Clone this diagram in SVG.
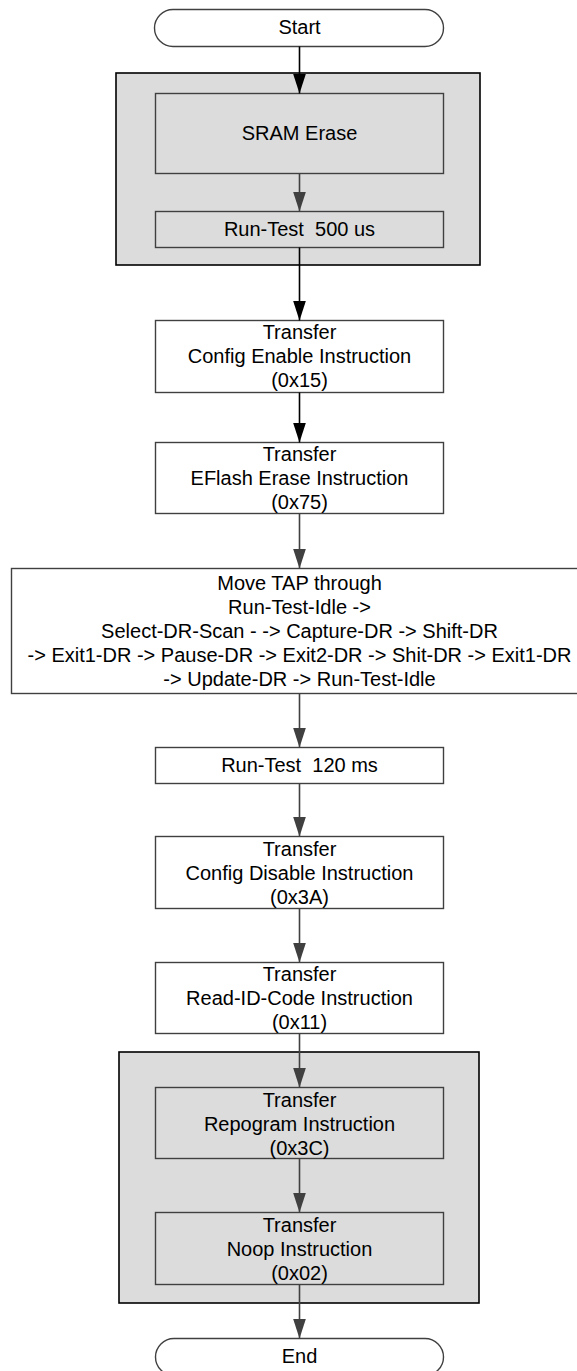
<svg xmlns="http://www.w3.org/2000/svg" width="577" height="1371" viewBox="0 0 577 1371">
<style>
  .bg{fill:#ffffff}
  .grp{fill:#dcdcdc;stroke:#000000;stroke-width:1.6}
  .box{fill:#ffffff;stroke:#404040;stroke-width:1.4}
  .gbox{fill:#dcdcdc;stroke:#404040;stroke-width:1.4}
  .term{fill:#ffffff;stroke:#404040;stroke-width:1.4}
  text{font-family:"Liberation Sans",Arial,sans-serif;font-size:20px;fill:#000000;text-anchor:middle}
  .cb{stroke:#000000;stroke-width:1.6;fill:none}
  .cg{stroke:#404040;stroke-width:1.6;fill:none}
</style>
<defs>
  <marker id="ahB" markerUnits="userSpaceOnUse" markerWidth="20" markerHeight="14" refX="20" refY="6.5" orient="auto">
    <path d="M0,0 L20,6.5 L0,13 z" fill="#000000"/>
  </marker>
  <marker id="ahG" markerUnits="userSpaceOnUse" markerWidth="20" markerHeight="14" refX="20" refY="6.5" orient="auto">
    <path d="M0,0 L20,6.5 L0,13 z" fill="#404040"/>
  </marker>
</defs>
<rect class="bg" x="0" y="0" width="577" height="1371"/>

<g id="group1">
  <rect class="grp" x="116" y="73" width="364" height="192"/>
</g>
<g id="group2">
  <rect class="grp" x="119" y="1052" width="360" height="251"/>
</g>

<g id="start">
  <rect class="term" x="154.5" y="9.5" width="289" height="37" rx="18.5" ry="18.5"/>
  <text x="299.5" y="34">Start</text>
</g>
<g id="sram-erase">
  <rect class="gbox" x="155.5" y="93.5" width="288" height="80"/>
  <text x="299.5" y="140">SRAM Erase</text>
</g>
<g id="run-test-500">
  <rect class="gbox" x="155.5" y="211.5" width="288" height="36"/>
  <text x="299.5" y="236" xml:space="preserve">Run-Test  500 us</text>
</g>
<g id="config-enable">
  <rect class="box" x="155.5" y="320.5" width="288" height="72"/>
  <text x="299.5" y="339">Transfer</text>
  <text x="299.5" y="363">Config Enable Instruction</text>
  <text x="299.5" y="387">(0x15)</text>
</g>
<g id="eflash-erase">
  <rect class="box" x="155.5" y="442.5" width="288" height="71"/>
  <text x="299.5" y="461">Transfer</text>
  <text x="299.5" y="485">EFlash Erase Instruction</text>
  <text x="299.5" y="509">(0x75)</text>
</g>
<g id="move-tap">
  <rect class="box" x="11.5" y="568.5" width="576" height="125"/>
  <text x="299.5" y="590">Move TAP through</text>
  <text x="299.5" y="614">Run-Test-Idle -&gt;</text>
  <text x="299.5" y="638">Select-DR-Scan - -&gt; Capture-DR -&gt; Shift-DR</text>
  <text x="299.5" y="662">-&gt; Exit1-DR -&gt; Pause-DR -&gt; Exit2-DR -&gt; Shit-DR -&gt; Exit1-DR</text>
  <text x="299.5" y="686">-&gt; Update-DR -&gt; Run-Test-Idle</text>
</g>
<g id="run-test-120">
  <rect class="box" x="155.5" y="747.5" width="288" height="36"/>
  <text x="299.5" y="772" xml:space="preserve">Run-Test  120 ms</text>
</g>
<g id="config-disable">
  <rect class="box" x="155.5" y="836.5" width="288" height="72"/>
  <text x="299.5" y="856">Transfer</text>
  <text x="299.5" y="880">Config Disable Instruction</text>
  <text x="299.5" y="904">(0x3A)</text>
</g>
<g id="read-id-code">
  <rect class="box" x="155.5" y="962.5" width="288" height="71"/>
  <text x="299.5" y="981">Transfer</text>
  <text x="299.5" y="1005">Read-ID-Code Instruction</text>
  <text x="299.5" y="1029">(0x11)</text>
</g>
<g id="reprogram">
  <rect class="gbox" x="155.5" y="1087.5" width="288" height="71"/>
  <text x="299.5" y="1107">Transfer</text>
  <text x="299.5" y="1131">Repogram Instruction</text>
  <text x="299.5" y="1155">(0x3C)</text>
</g>
<g id="noop">
  <rect class="gbox" x="155.5" y="1212.5" width="288" height="72"/>
  <text x="299.5" y="1232">Transfer</text>
  <text x="299.5" y="1256">Noop Instruction</text>
  <text x="299.5" y="1280">(0x02)</text>
</g>
<g id="end">
  <rect class="term" x="155.5" y="1338.5" width="288" height="37" rx="18.5" ry="18.5"/>
  <text x="299.5" y="1363">End</text>
</g>

<g id="connectors">
  <line class="cb" x1="299.5" y1="46.5" x2="299.5" y2="93.5" marker-end="url(#ahB)"/>
  <line class="cg" x1="299.5" y1="173.5" x2="299.5" y2="211.5" marker-end="url(#ahG)"/>
  <line class="cb" x1="299.5" y1="247.5" x2="299.5" y2="320.5" marker-end="url(#ahB)"/>
  <line class="cb" x1="299.5" y1="392.5" x2="299.5" y2="442.5" marker-end="url(#ahB)"/>
  <line class="cg" x1="299.5" y1="513.5" x2="299.5" y2="568.5" marker-end="url(#ahG)"/>
  <line class="cg" x1="299.5" y1="693.5" x2="299.5" y2="747.5" marker-end="url(#ahG)"/>
  <line class="cg" x1="299.5" y1="783.5" x2="299.5" y2="836.5" marker-end="url(#ahG)"/>
  <line class="cg" x1="299.5" y1="908.5" x2="299.5" y2="962.5" marker-end="url(#ahG)"/>
  <line class="cg" x1="299.5" y1="1033.5" x2="299.5" y2="1087.5" marker-end="url(#ahG)"/>
  <line class="cg" x1="299.5" y1="1158.5" x2="299.5" y2="1212.5" marker-end="url(#ahG)"/>
  <line class="cg" x1="299.5" y1="1284.5" x2="299.5" y2="1338.5" marker-end="url(#ahG)"/>
</g>
</svg>
